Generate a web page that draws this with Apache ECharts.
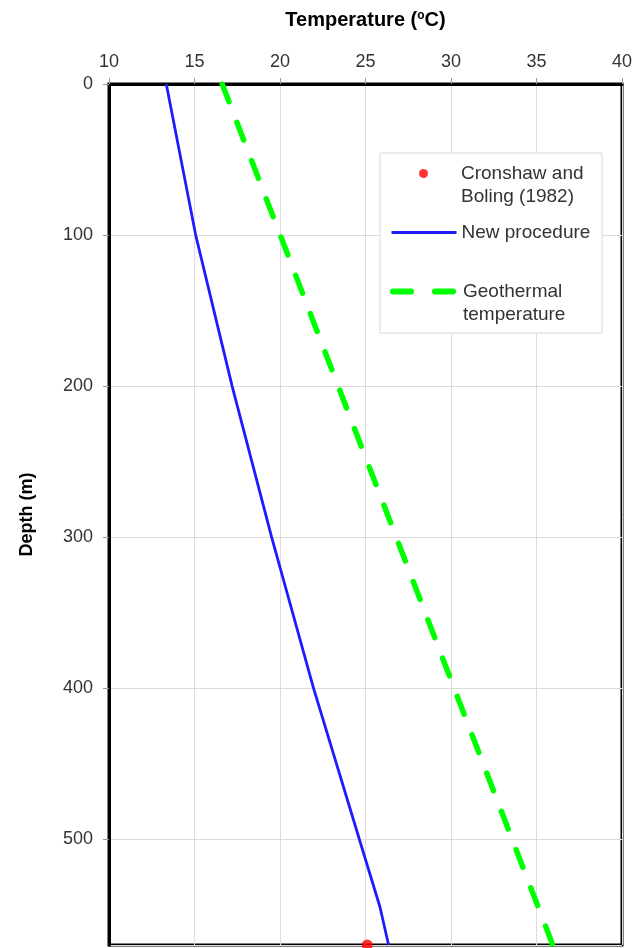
<!DOCTYPE html>
<html>
<head>
<meta charset="utf-8">
<script src="https://cdn.jsdelivr.net/npm/echarts@6/dist/echarts.min.js"></script>
<style>
html, body { margin: 0; padding: 0; background: #fff; }
#main { width: 644px; height: 948px; }
</style>
</head>
<body>
<div id="main"></div>
<script>
// depth (m) vs temperature (C)
var newDepth = [0, 100, 200, 300, 400, 500, 545, 570];
var newTemp = [13.35, 15.07, 17.2, 19.51, 21.96, 24.64, 25.85, 26.35];

var geoDepth = [0, 570];
var geoTemp = [16.62, 35.95];

var measDepth = [570];
var measTemp = [25.1];

var xTicks = [10, 15, 20, 25, 30, 35, 40];
var yTicks = [0, 100, 200, 300, 400, 500];

function pairs(t, d) {
    var out = [];
    for (var i = 0; i < t.length; i++) out.push([t[i], d[i]]);
    return out;
}

var font = 'Liberation Sans, Arial, sans-serif';
var legendText = { fontSize: 19, color: '#333', lineHeight: 23, fontFamily: font };
var myChart = echarts.init(document.getElementById('main'));
var option = {
    animation: false,
    backgroundColor: '#fff',
    textStyle: { fontFamily: font },
    grid: {
        left: 109, right: 22, top: 84, bottom: 3,
        outerBoundsMode: 'none',
        show: true, borderColor: '#000', borderWidth: 3, backgroundColor: 'transparent'
    },
    xAxis: {
        type: 'value', position: 'top',
        min: xTicks[0], max: xTicks[xTicks.length - 1], interval: 5,
        name: 'Temperature ({sup|o}C)',
        nameLocation: 'middle', nameGap: 54,
        nameTextStyle: {
            fontFamily: font, fontSize: 20, fontWeight: 'bold', color: '#000',
            rich: { sup: { fontSize: 12, fontWeight: 'bold', verticalAlign: 'top', padding: [0, 0, 8, 0], fontFamily: font } }
        },
        axisLine: { show: true, lineStyle: { color: '#000', width: 3 } },
        axisTick: { show: true, inside: false, length: 6, lineStyle: { color: '#999' } },
        axisLabel: { fontSize: 18, color: '#333', margin: 13, fontFamily: font },
        splitLine: { show: true, lineStyle: { color: '#dcdcdc', width: 1 } }
    },
    yAxis: {
        type: 'value', inverse: true,
        min: yTicks[0], max: 570, interval: 100,
        name: 'Depth (m)',
        nameLocation: 'middle', nameGap: 73,
        nameTextStyle: { fontFamily: font, fontSize: 18, fontWeight: 'bold', color: '#000' },
        axisLine: { show: true, lineStyle: { color: '#000', width: 3 } },
        axisTick: { show: true, inside: false, length: 6, lineStyle: { color: '#999' } },
        axisLabel: { fontSize: 18, color: '#333', margin: 16, fontFamily: font, showMaxLabel: false },
        splitLine: { show: true, lineStyle: { color: '#dcdcdc', width: 1 } }
    },
    graphic: [{
        type: 'rect', z: 1,
        shape: { x: 380, y: 153, width: 222, height: 180 },
        style: { fill: '#fff', stroke: '#d9d9d9', lineWidth: 1 }
    }],
    legend: [
        {
            // scatter icon is drawn at the left of its slot, so shift to centre it over the line icons
            data: ['Cronshaw and Boling (1982)'], orient: 'vertical', left: 419, top: 139,
            padding: 0, z: 5, itemWidth: 65, itemHeight: 9, itemGap: 0,
            formatter: function () { return '\nCronshaw and\nBoling (1982)'; },
            textStyle: legendText
        },
        {
            data: ['New procedure'], orient: 'vertical', left: 390, top: 221,
            padding: 0, z: 5, itemWidth: 65, itemHeight: 14, itemGap: 0,
            itemStyle: { opacity: 0 },
            lineStyle: { width: 3 },
            textStyle: legendText
        },
        {
            data: ['Geothermal temperature'], orient: 'vertical', left: 390, top: 257,
            padding: 0, z: 5, itemWidth: 65, itemHeight: 14, itemGap: 0,
            itemStyle: { opacity: 0 },
            lineStyle: { width: 6, cap: 'round', type: [18, 24] },
            formatter: function () { return '\nGeothermal\ntemperature'; },
            textStyle: legendText
        }
    ],
    series: [
        {
            name: 'Geothermal temperature', type: 'line', symbol: 'none', z: 3,
            data: pairs(geoTemp, geoDepth),
            lineStyle: { color: '#00ff00', width: 5.5, type: [19, 22], cap: 'round' },
            itemStyle: { color: '#00ff00' }
        },
        {
            name: 'New procedure', type: 'line', symbol: 'none', z: 3,
            data: pairs(newTemp, newDepth),
            lineStyle: { color: '#1c1cff', width: 2.8 },
            itemStyle: { color: '#1c1cff' }
        },
        {
            name: 'Cronshaw and Boling (1982)', type: 'scatter', z: 4,
            symbol: 'circle', symbolSize: 11,
            data: pairs(measTemp, measDepth),
            itemStyle: { color: '#ff0000' }
        }
    ]
};
myChart.setOption(option);
</script>
</body>
</html>
